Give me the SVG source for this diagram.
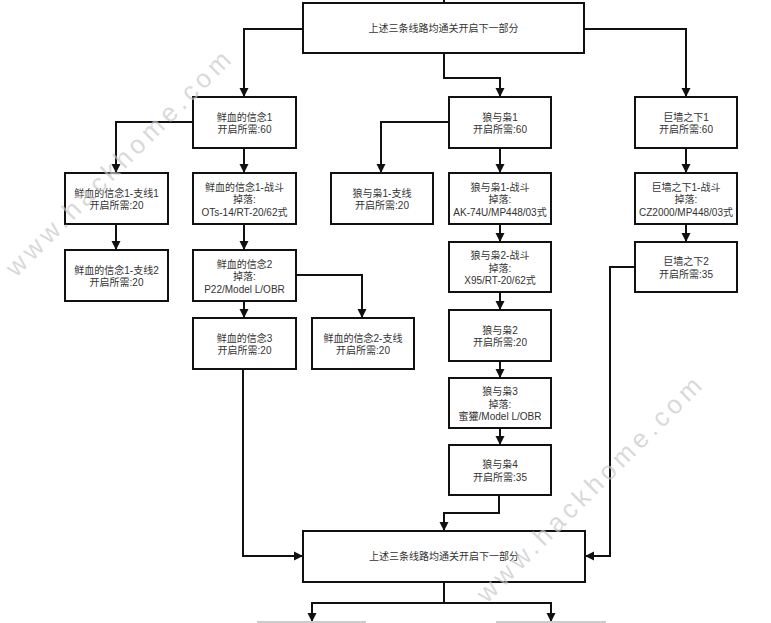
<svg xmlns="http://www.w3.org/2000/svg" width="771" height="623" viewBox="0 0 771 623">
<defs>
<style>
.box{fill:#fff;stroke:#111;stroke-width:2}
.ghost{fill:#fff;stroke:#ccc;stroke-width:2}
.t{font-family:"Liberation Sans","Noto Sans CJK SC",sans-serif;font-size:10px;fill:#333;text-anchor:middle}
.c{fill:none;stroke:#111;stroke-width:2}
.wm{font-family:"Liberation Sans","Noto Sans CJK SC",sans-serif;font-size:26px;fill:#c8c8c8;fill-opacity:0.7;letter-spacing:4.5px}
</style>
<marker id="ah" markerUnits="userSpaceOnUse" markerWidth="10" markerHeight="10" refX="9" refY="5" orient="auto">
<path d="M0,0.5 L9,5 L0,9.5 z" fill="#111"/>
</marker>
</defs>
<rect width="771" height="623" fill="#fff"/>
<g id="connectors">
<path class="c" d="M444,0 V3"/>
<path class="c" d="M303,29 H244 V97" marker-end="url(#ah)"/>
<path class="c" d="M444,53 V78 H500 V97" marker-end="url(#ah)"/>
<path class="c" d="M584,29 H686 V97" marker-end="url(#ah)"/>
<path class="c" d="M193,122 H116 V173" marker-end="url(#ah)"/>
<path class="c" d="M244,148 V173" marker-end="url(#ah)"/>
<path class="c" d="M116,224 V250" marker-end="url(#ah)"/>
<path class="c" d="M244,224 V250" marker-end="url(#ah)"/>
<path class="c" d="M244,301 V318" marker-end="url(#ah)"/>
<path class="c" d="M296,275 H362 V318" marker-end="url(#ah)"/>
<path class="c" d="M243,369 V556 H303" marker-end="url(#ah)"/>
<path class="c" d="M449,122 H381 V173" marker-end="url(#ah)"/>
<path class="c" d="M500,148 V173" marker-end="url(#ah)"/>
<path class="c" d="M500,224 V242" marker-end="url(#ah)"/>
<path class="c" d="M500,292 V310" marker-end="url(#ah)"/>
<path class="c" d="M500,361 V378" marker-end="url(#ah)"/>
<path class="c" d="M500,428 V445" marker-end="url(#ah)"/>
<path class="c" d="M499,495 V513 H444 V531" marker-end="url(#ah)"/>
<path class="c" d="M686,148 V173" marker-end="url(#ah)"/>
<path class="c" d="M686,224 V242" marker-end="url(#ah)"/>
<path class="c" d="M635,267 H610 V556 H585" marker-end="url(#ah)"/>
<path class="c" d="M444,582 V603"/>
<path class="c" d="M312,603 H551"/>
<path class="c" d="M312,602 V622" marker-end="url(#ah)"/>
<path class="c" d="M551,602 V622" marker-end="url(#ah)"/>
</g>
<g id="top">
<rect class="box" x="303" y="3" width="281" height="50"/>
<text class="t" x="443.5" y="32">上述三条线路均通关开启下一部分</text>
</g>
<g id="xue1">
<rect class="box" x="193" y="97" width="103" height="51"/>
<text class="t" x="244.5" y="120.5">鲜血的信念1</text>
<text class="t" x="244.5" y="133">开启所需:60</text>
</g>
<g id="xue1-zhi1">
<rect class="box" x="65" y="173" width="103" height="51"/>
<text class="t" x="116.5" y="196.5">鲜血的信念1-支线1</text>
<text class="t" x="116.5" y="209">开启所需:20</text>
</g>
<g id="xue1-zhan">
<rect class="box" x="193" y="173" width="103" height="51"/>
<text class="t" x="244.5" y="190.5">鲜血的信念1-战斗</text>
<text class="t" x="244.5" y="203">掉落:</text>
<text class="t" x="244.5" y="215.5">OTs-14/RT-20/62式</text>
</g>
<g id="xue1-zhi2">
<rect class="box" x="65" y="250" width="103" height="51"/>
<text class="t" x="116.5" y="273.5">鲜血的信念1-支线2</text>
<text class="t" x="116.5" y="286">开启所需:20</text>
</g>
<g id="xue2">
<rect class="box" x="193" y="250" width="103" height="51"/>
<text class="t" x="244.5" y="267.5">鲜血的信念2</text>
<text class="t" x="244.5" y="280">掉落:</text>
<text class="t" x="244.5" y="292.5">P22/Model L/OBR</text>
</g>
<g id="xue3">
<rect class="box" x="193" y="318" width="103" height="51"/>
<text class="t" x="244.5" y="341.5">鲜血的信念3</text>
<text class="t" x="244.5" y="354">开启所需:20</text>
</g>
<g id="xue2-zhi">
<rect class="box" x="312" y="318" width="102" height="51"/>
<text class="t" x="363" y="341.5">鲜血的信念2-支线</text>
<text class="t" x="363" y="354">开启所需:20</text>
</g>
<g id="lang1">
<rect class="box" x="449" y="97" width="102" height="51"/>
<text class="t" x="500" y="120.5">狼与枭1</text>
<text class="t" x="500" y="133">开启所需:60</text>
</g>
<g id="lang1-zhi">
<rect class="box" x="331" y="173" width="102" height="51"/>
<text class="t" x="382" y="196.5">狼与枭1-支线</text>
<text class="t" x="382" y="209">开启所需:20</text>
</g>
<g id="lang1-zhan">
<rect class="box" x="449" y="173" width="102" height="51"/>
<text class="t" x="500" y="190.5">狼与枭1-战斗</text>
<text class="t" x="500" y="203">掉落:</text>
<text class="t" x="500" y="215.5">AK-74U/MP448/03式</text>
</g>
<g id="lang2-zhan">
<rect class="box" x="449" y="242" width="102" height="50"/>
<text class="t" x="500" y="259">狼与枭2-战斗</text>
<text class="t" x="500" y="271.5">掉落:</text>
<text class="t" x="500" y="284">X95/RT-20/62式</text>
</g>
<g id="lang2">
<rect class="box" x="449" y="310" width="102" height="51"/>
<text class="t" x="500" y="333.5">狼与枭2</text>
<text class="t" x="500" y="346">开启所需:20</text>
</g>
<g id="lang3">
<rect class="box" x="449" y="378" width="102" height="50"/>
<text class="t" x="500" y="395">狼与枭3</text>
<text class="t" x="500" y="407.5">掉落:</text>
<text class="t" x="500" y="420">蜜獾/Model L/OBR</text>
</g>
<g id="lang4">
<rect class="box" x="449" y="445" width="102" height="50"/>
<text class="t" x="500" y="468">狼与枭4</text>
<text class="t" x="500" y="480.5">开启所需:35</text>
</g>
<g id="ju1">
<rect class="box" x="635" y="97" width="102" height="51"/>
<text class="t" x="686" y="120.5">巨墙之下1</text>
<text class="t" x="686" y="133">开启所需:60</text>
</g>
<g id="ju1-zhan">
<rect class="box" x="635" y="173" width="102" height="51"/>
<text class="t" x="686" y="190.5">巨墙之下1-战斗</text>
<text class="t" x="686" y="203">掉落:</text>
<text class="t" x="686" y="215.5">CZ2000/MP448/03式</text>
</g>
<g id="ju2">
<rect class="box" x="635" y="242" width="102" height="50"/>
<text class="t" x="686" y="265">巨墙之下2</text>
<text class="t" x="686" y="277.5">开启所需:35</text>
</g>
<g id="bottom">
<rect class="box" x="303" y="531" width="282" height="51"/>
<text class="t" x="444" y="560">上述三条线路均通关开启下一部分</text>
</g>
<g id="next-left">
<rect class="ghost" x="258" y="622" width="107" height="30"/>
</g>
<g id="next-right">
<rect class="ghost" x="497" y="622" width="108" height="30"/>
</g>
<g id="watermarks">
<text class="wm" transform="translate(16,278) rotate(-45)">www.hackhome.com</text>
<text class="wm" transform="translate(487,604) rotate(-45)">www.hackhome.com</text>
</g>
</svg>
